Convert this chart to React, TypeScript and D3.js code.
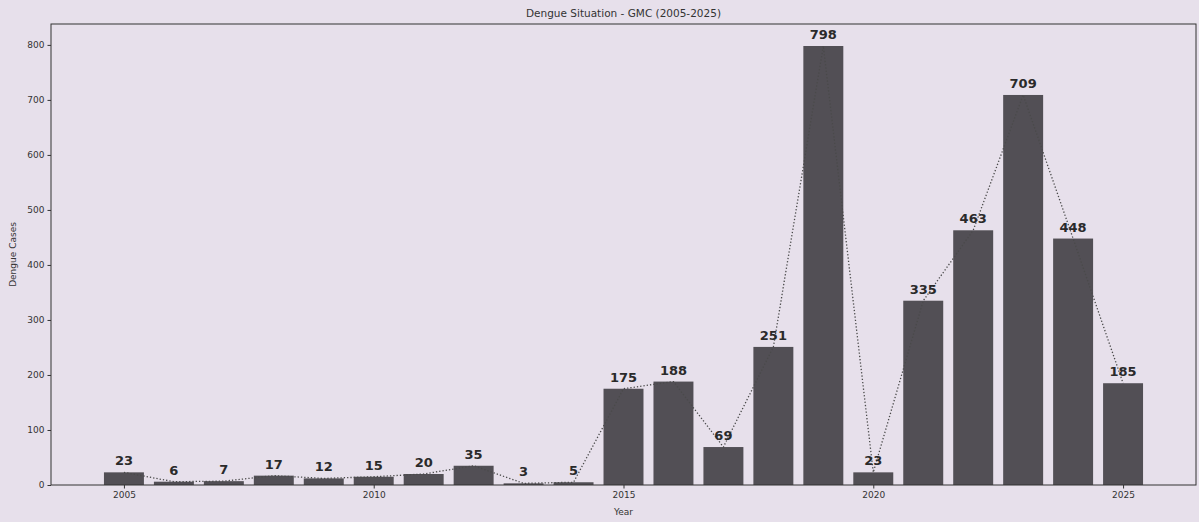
import { useRef, useEffect } from 'react'
import * as d3 from 'd3'

const years = [
  2005, 2006, 2007, 2008, 2009, 2010, 2011, 2012, 2013, 2014, 2015,
  2016, 2017, 2018, 2019, 2020, 2021, 2022, 2023, 2024, 2025,
]
const cases = [23, 6, 7, 17, 12, 15, 20, 35, 3, 5, 175, 188, 69, 251, 798, 23, 335, 463, 709, 448, 185]
const yTicks = [0, 100, 200, 300, 400, 500, 600, 700, 800]
const xTicks = [2005, 2010, 2015, 2020, 2025]

const W = 1199
const H = 522

export default function App() {
  const svgRef = useRef<SVGSVGElement>(null)

  useEffect(() => {
    if (!svgRef.current) return
    const svg = d3.select(svgRef.current)
    svg.selectAll('*').remove()

    const margin = { top: 24, right: 3, bottom: 37, left: 51 }
    const width = W - margin.left - margin.right
    const height = H - margin.top - margin.bottom
    const font = 'DejaVu Sans, sans-serif'

    svg.append('rect').attr('width', W).attr('height', H).attr('fill', '#e7e0eb')

    const g = svg.append('g').attr('transform', `translate(${margin.left},${margin.top})`)

    const x = d3.scaleLinear().domain([2003.54, 2026.46]).range([0, width])
    const y = d3.scaleLinear().domain([0, 838]).range([height, 0])
    const bw = x(2005.4) - x(2004.6)

    // bars
    g.selectAll('rect.bar')
      .data(years)
      .join('rect')
      .attr('class', 'bar')
      .attr('x', (d) => x(d - 0.4))
      .attr('y', (_, i) => y(cases[i]))
      .attr('width', bw)
      .attr('height', (_, i) => height - y(cases[i]))
      .attr('fill', '#524f55')

    // dotted trend line
    const line = d3
      .line<number>()
      .x((d) => x(d))
      .y((_, i) => y(cases[i]))

    g.append('path')
      .datum(years)
      .attr('fill', 'none')
      .attr('stroke', '#4a4a4a')
      .attr('stroke-width', 1.3)
      .attr('stroke-dasharray', '1.3,2')
      .attr('d', line)

    // value labels
    g.selectAll('text.val')
      .data(years)
      .join('text')
      .attr('class', 'val')
      .attr('x', (d) => x(d))
      .attr('y', (_, i) => y(cases[i]) - 7)
      .attr('text-anchor', 'middle')
      .attr('font-family', font)
      .attr('font-weight', 'bold')
      .attr('font-size', '13px')
      .attr('fill', '#2a2a2a')
      .text((_, i) => String(cases[i]))

    // axes
    g.append('g')
      .attr('transform', `translate(0,${height})`)
      .call(d3.axisBottom(x).tickValues(xTicks).tickFormat(d3.format('d')).tickSize(3.5).tickPadding(3))
      .call((a) => {
        a.select('.domain').remove()
        a.selectAll('.tick line').attr('stroke', '#333')
        a.selectAll('.tick text').attr('fill', '#333').attr('font-size', '9px').attr('font-family', font)
      })

    g.append('g')
      .call(d3.axisLeft(y).tickValues(yTicks).tickSize(3.5).tickPadding(3))
      .call((a) => {
        a.select('.domain').remove()
        a.selectAll('.tick line').attr('stroke', '#333')
        a.selectAll('.tick text').attr('fill', '#333').attr('font-size', '9px').attr('font-family', font)
      })

    // frame
    g.append('rect')
      .attr('width', width)
      .attr('height', height)
      .attr('fill', 'none')
      .attr('stroke', '#333')
      .attr('stroke-width', 1)

    // titles
    svg.append('text')
      .attr('x', margin.left + width / 2)
      .attr('y', 17)
      .attr('text-anchor', 'middle')
      .attr('font-family', font)
      .attr('font-size', '10.5px')
      .attr('fill', '#333')
      .text('Dengue Situation - GMC (2005-2025)')

    svg.append('text')
      .attr('x', margin.left + width / 2)
      .attr('y', 515)
      .attr('text-anchor', 'middle')
      .attr('font-family', font)
      .attr('font-size', '9px')
      .attr('fill', '#333')
      .text('Year')

    svg.append('text')
      .attr('transform', `translate(16,${margin.top + height / 2}) rotate(-90)`)
      .attr('text-anchor', 'middle')
      .attr('font-family', font)
      .attr('font-size', '9px')
      .attr('fill', '#333')
      .text('Dengue Cases')
  }, [])

  return (
    <div style={{ position: 'fixed', left: 0, top: 0 }}>
      <svg ref={svgRef} width={W} height={H} style={{ display: 'block' }} />
    </div>
  )
}
